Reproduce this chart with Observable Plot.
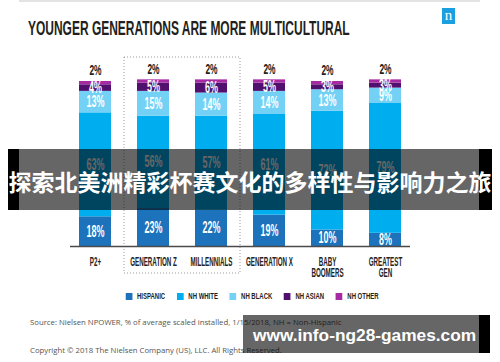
<!DOCTYPE html>
<html><head><meta charset="utf-8">
<script src="https://cdn.jsdelivr.net/npm/d3@7"></script>
<script src="https://cdn.jsdelivr.net/npm/@observablehq/plot@0.6"></script>
<style>
html,body{margin:0;padding:0;background:#fff;}
#wrap{position:relative;width:500px;height:362px;overflow:hidden;font-family:"Liberation Sans",Arial,sans-serif;}
#topline{position:absolute;left:19px;top:0;width:461px;height:2px;background:#e3e3e3;}
#logo{position:absolute;left:442px;top:8px;width:13px;height:16px;background:#1aa0e1;color:#fff;font:15px/15px "Liberation Serif",serif;text-align:center;}
#title{position:absolute;left:0;top:0;}
#plot{position:absolute;left:0;top:40px;}
#legend{position:absolute;left:2px;top:289px;width:500px;display:flex;justify-content:center;transform:scaleX(0.61);transform-origin:250px 50%;font:bold 9.8px/14px "Liberation Sans",Arial,sans-serif;color:#222;}
#legend .li{display:flex;align-items:center;margin:0 9.5px;}
#legend .sw{display:inline-block;width:11px;height:7px;margin-right:8px;}
.note{position:absolute;left:30px;font:7.75px/10px "Open Sans",sans-serif;color:#555;white-space:nowrap;}
#banner{position:absolute;left:8px;top:149px;width:484px;height:61px;background:linear-gradient(to right,#000 0 11px,rgba(0,0,0,.6) 11px 471px,#000 471px 484px);z-index:5;}
#banner div{position:absolute;left:0;top:2px;width:484px;text-align:center;font:bold 23px/61px "Noto Sans CJK SC",sans-serif;color:#fff;white-space:nowrap;}
#wm{position:absolute;left:243px;top:315px;width:247px;height:38px;background:linear-gradient(to right,rgba(0,0,0,.6) 0 236px,#000 236px 247px);z-index:5;}
#wm div{position:absolute;left:10px;top:1px;font:bold 17.3px/38px "Liberation Sans",Arial,sans-serif;color:#fff;white-space:nowrap;}
</style></head>
<body><div id="wrap">
<div id="topline"></div>
<svg id="title" width="500" height="42"><text id="titletext" font-family="Liberation Sans, Arial, sans-serif" font-weight="bold" font-size="19.5" fill="#231f20">YOUNGER GENERATIONS ARE MORE MULTICULTURAL</text></svg>
<div id="logo">n</div>
<div id="plot"></div>
<div id="legend"></div>
<div class="note" style="top:317px">Source: Nielsen NPOWER, % of average scaled installed, 1/15/2018, NH = Non-Hispanic</div>
<div class="note" style="top:345px">Copyright © 2018 The Nielsen Company (US), LLC. All Rights Reserved.</div>
<div id="banner"><div>探索北美洲精彩杯赛文化的多样性与影响力之旅</div></div>
<div id="wm"><div>www.info-ng28-games.com</div></div>
</div>
<script>
const categories = ["P2+", "GENERATION Z", "MILLENNIALS", "GENERATION X", "BABY\nBOOMERS", "GREATEST\nGEN"];
const series = ["HISPANIC", "NH WHITE", "NH BLACK", "NH ASIAN", "NH OTHER"];
const colors = ["#1c72bb", "#00adef", "#74d1f6", "#52106e", "#a62ba3"];
const hispanic = [18, 23, 22, 19, 10, 8];
const nhWhite  = [63, 56, 57, 61, 72, 79];
const nhBlack  = [13, 15, 14, 14, 13, 9];
const nhAsian  = [4, 5, 6, 5, 3, 3];
const nhOther  = [2, 2, 2, 2, 2, 2];
const values = [hispanic, nhWhite, nhBlack, nhAsian, nhOther];

const rows = [];
categories.forEach((c, i) => {
  let acc = 0;
  series.forEach((s, j) => {
    const v = values[j][i];
    rows.push({cat: c, series: s, value: v, y1: acc, y2: acc + v, mid: acc + v / 2});
    acc += v;
  });
});

// title: condense to the reference width
const tt = document.getElementById("titletext");
const tw = tt.getComputedTextLength();
tt.setAttribute("transform", `translate(28,35) scale(${322 / tw},1)`);

const chart = Plot.plot({
  width: 500, height: 240,
  marginTop: 41, marginBottom: 34, marginLeft: 70, marginRight: 90,
  x: {domain: categories, paddingInner: 0.454, paddingOuter: 0.127},
  y: {domain: [0, 100], axis: null},
  color: {domain: series, range: colors},
  style: {fontFamily: "Liberation Sans, Arial, sans-serif", background: "transparent", overflow: "visible"},
  marks: [
    Plot.barY(rows, {x: "cat", y1: "y1", y2: "y2", fill: "series"}),
    Plot.ruleY([0], {stroke: "#4a4a4a", strokeWidth: 1.5}),
    Plot.text(rows.filter(d => d.series !== "NH OTHER"), {x: "cat", y: "mid", text: d => d.value + "%", fill: "white", fontSize: 16, fontWeight: "bold"}),
    Plot.text(rows.filter(d => d.series === "NH OTHER"), {x: "cat", y: "y2", text: d => d.value + "%", fill: "#222", fontSize: 15, fontWeight: "bold", dy: -11}),
    Plot.axisX({label: null, tickSize: 0, tickPadding: 11, fontSize: 12, fontWeight: "bold", fill: "#222", lineHeight: 0.95})
  ]
});
document.getElementById("plot").appendChild(chart);

const svg = d3.select(chart);
function condense(sel, s) {
  sel.each(function() {
    const t = this.getAttribute("transform");
    if (t) this.setAttribute("transform", t + ` scale(${s},1)`);
    else {
      const x = +this.getAttribute("x") || 0, y = +this.getAttribute("y") || 0;
      this.removeAttribute("x"); this.removeAttribute("y");
      this.setAttribute("transform", `translate(${x},${y}) scale(${s},1)`);
    }
  });
}
condense(svg.selectAll('g[aria-label="text"] text'), 0.56);
condense(svg.selectAll('g[aria-label="x-axis tick label"] text'), 0.52);

// dotted highlight box around Generation Z & Millennials, from the scales
const xs = chart.scale("x"), ys = chart.scale("y");
const bx0 = xs.apply("GENERATION Z") + xs.bandwidth / 2 - xs.step / 2;
const bx1 = xs.apply("MILLENNIALS") + xs.bandwidth / 2 + xs.step / 2;
const by0 = ys.apply(100) - 24, by1 = ys.apply(0) + 27;
svg.insert("rect", "g")
  .attr("x", bx0).attr("y", by0).attr("width", bx1 - bx0).attr("height", by1 - by0)
  .attr("fill", "none").attr("stroke", "#9a9a9a").attr("stroke-width", 1).attr("stroke-dasharray", "1,2");

// legend
const legend = d3.select("#legend");
series.forEach((s, i) => {
  const item = legend.append("div").attr("class", "li");
  item.append("span").attr("class", "sw").style("background", colors[i]);
  item.append("span").text(s);
});
</script>
</body></html>
